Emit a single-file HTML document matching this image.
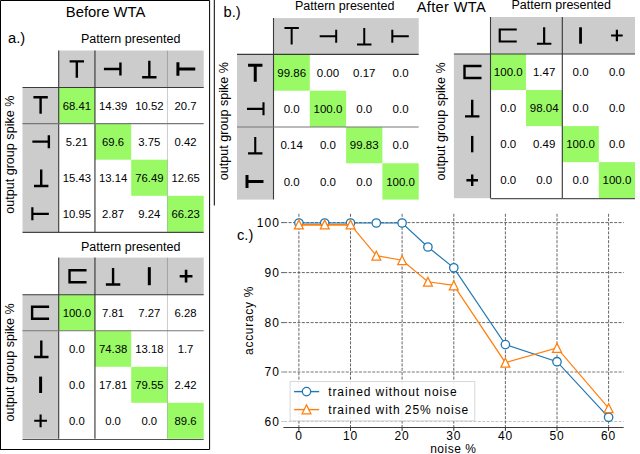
<!DOCTYPE html><html><head><meta charset="utf-8"><style>html,body{margin:0;padding:0;background:#fff}svg{display:block}</style></head><body><svg width="640" height="454" viewBox="0 0 640 454" font-family="Liberation Sans, sans-serif" fill="#000">
<rect width="640" height="454" fill="#fff"/>
<path d="M0.5,449V0.5H209.6V449.5H0" stroke="#000" stroke-width="1" fill="none"/>
<path d="M214.3,0V205.5" stroke="#000" stroke-width="1" fill="none"/>
<text x="65.8" y="16.8" font-size="14.8">Before WTA</text>
<text x="8" y="43.2" font-size="14.7">a.)</text>
<text x="223.5" y="17" font-size="14.7">b.)</text>
<text x="237" y="239.7" font-size="14.7">c.)</text>
<text x="416.7" y="12" font-size="14.6" letter-spacing="0.35">After WTA</text>
<rect x="58.7" y="50.5" width="145.00" height="37" fill="#cccccc"/>
<rect x="22.5" y="87.5" width="36.2" height="144.4" fill="#cccccc"/>
<rect x="58.70" y="87.50" width="36.25" height="36.1" fill="#99fa66"/>
<rect x="94.95" y="123.60" width="36.25" height="36.1" fill="#99fa66"/>
<rect x="131.20" y="159.70" width="36.25" height="36.1" fill="#99fa66"/>
<rect x="167.45" y="195.80" width="36.25" height="36.1" fill="#99fa66"/>
<path d="M167.45,50.5V231.9" stroke="#000" stroke-opacity="0.2" stroke-width="1"/>
<path d="M58.7,50.5V231.9M22.5,87.5H203.70" stroke="#3a3a3a" stroke-width="1.1" fill="none"/>
<path d="M94.95,50.5V231.9" stroke="#333" stroke-width="1.1" fill="none"/>
<path d="M22.5,123.60H203.70" stroke="#777" stroke-width="1.1" fill="none"/>
<path d="M22.5,232.3H203.70" stroke="#444" stroke-width="1.3" fill="none"/>
<path d="M69.625,61.349999999999994H84.025M76.825,61.349999999999994V77.85" stroke="#000" stroke-width="2.4" fill="none"/>
<path d="M33.4,97.3H47.800000000000004M40.6,97.3V113.8" stroke="#000" stroke-width="2.4" fill="none"/>
<path d="M120.42499999999998,62.519999999999996V75.48M120.42499999999998,69.0H103.92499999999998" stroke="#000" stroke-width="2.4" fill="none"/>
<path d="M48.85,135.17000000000002V148.13M48.85,141.65H32.35" stroke="#000" stroke-width="2.4" fill="none"/>
<path d="M142.125,77.25H156.52499999999998M149.325,77.25V60.75" stroke="#000" stroke-width="2.4" fill="none"/>
<path d="M34.0,186.0H48.400000000000006M41.2,186.0V169.5" stroke="#000" stroke-width="2.4" fill="none"/>
<path d="M177.9125,62.196V75.804M177.9125,69.0H195.23749999999998" stroke="#000" stroke-width="3" fill="none"/>
<path d="M32.35,207.37000000000003V220.33M32.35,213.85000000000002H48.85" stroke="#000" stroke-width="2.2" fill="none"/>
<text x="76.83" y="109.62" font-size="11.3" text-anchor="middle">68.41</text>
<text x="113.07" y="109.62" font-size="11.3" text-anchor="middle">14.39</text>
<text x="149.32" y="109.62" font-size="11.3" text-anchor="middle">10.52</text>
<text x="185.57" y="109.62" font-size="11.3" text-anchor="middle">20.7</text>
<text x="76.83" y="145.72" font-size="11.3" text-anchor="middle">5.21</text>
<text x="113.07" y="145.72" font-size="11.3" text-anchor="middle">69.6</text>
<text x="149.32" y="145.72" font-size="11.3" text-anchor="middle">3.75</text>
<text x="185.57" y="145.72" font-size="11.3" text-anchor="middle">0.42</text>
<text x="76.83" y="181.82" font-size="11.3" text-anchor="middle">15.43</text>
<text x="113.07" y="181.82" font-size="11.3" text-anchor="middle">13.14</text>
<text x="149.32" y="181.82" font-size="11.3" text-anchor="middle">76.49</text>
<text x="185.57" y="181.82" font-size="11.3" text-anchor="middle">12.65</text>
<text x="76.83" y="217.92" font-size="11.3" text-anchor="middle">10.95</text>
<text x="113.07" y="217.92" font-size="11.3" text-anchor="middle">2.87</text>
<text x="149.32" y="217.92" font-size="11.3" text-anchor="middle">9.24</text>
<text x="185.57" y="217.92" font-size="11.3" text-anchor="middle">66.23</text>
<text transform="translate(13.80,154.70) rotate(-90)" font-size="12.6" text-anchor="middle">output group spike %</text>
<text x="81" y="43.2" font-size="12.5">Pattern presented</text>
<rect x="58.7" y="257.6" width="145.00" height="37.2" fill="#cccccc"/>
<rect x="22.5" y="294.8" width="36.2" height="144.0" fill="#cccccc"/>
<rect x="58.70" y="294.80" width="36.25" height="36.0" fill="#99fa66"/>
<rect x="94.95" y="330.80" width="36.25" height="36.0" fill="#99fa66"/>
<rect x="131.20" y="366.80" width="36.25" height="36.0" fill="#99fa66"/>
<rect x="167.45" y="402.80" width="36.25" height="36.0" fill="#99fa66"/>
<path d="M167.45,257.6V438.8" stroke="#000" stroke-opacity="0.2" stroke-width="1"/>
<path d="M58.7,257.6V438.8M22.5,294.8H203.70" stroke="#3a3a3a" stroke-width="1.1" fill="none"/>
<path d="M94.95,257.6V438.8" stroke="#333" stroke-width="1.1" fill="none"/>
<path d="M22.5,330.80H203.70" stroke="#777" stroke-width="1.1" fill="none"/>
<path d="M22.5,439.5H203.70" stroke="#555" stroke-width="1.1" fill="none"/>
<path d="M86.525,270.2H69.525V282.2H86.525" stroke="#000" stroke-width="2.4" fill="none"/>
<path d="M49.1,306.8H32.1V318.8H49.1" stroke="#000" stroke-width="2.4" fill="none"/>
<path d="M105.87499999999999,284.45H120.27499999999999M113.07499999999999,284.45V267.95" stroke="#000" stroke-width="2.4" fill="none"/>
<path d="M34.1,357.05H48.50000000000001M41.300000000000004,357.05V340.55" stroke="#000" stroke-width="2.4" fill="none"/>
<path d="M149.325,267.18V285.21999999999997" stroke="#000" stroke-width="3" fill="none"/>
<path d="M40.6,376.6V393.0" stroke="#000" stroke-width="3" fill="none"/>
<path d="M179.695,276.2H192.45499999999998M186.075,269.82V282.58" stroke="#000" stroke-width="2.6" fill="none"/>
<path d="M34.22,420.8H46.980000000000004M40.6,414.42V427.18" stroke="#000" stroke-width="2.1" fill="none"/>
<text x="76.83" y="316.87" font-size="11.3" text-anchor="middle">100.0</text>
<text x="113.07" y="316.87" font-size="11.3" text-anchor="middle">7.81</text>
<text x="149.32" y="316.87" font-size="11.3" text-anchor="middle">7.27</text>
<text x="185.57" y="316.87" font-size="11.3" text-anchor="middle">6.28</text>
<text x="76.83" y="352.87" font-size="11.3" text-anchor="middle">0.0</text>
<text x="113.07" y="352.87" font-size="11.3" text-anchor="middle">74.38</text>
<text x="149.32" y="352.87" font-size="11.3" text-anchor="middle">13.18</text>
<text x="185.57" y="352.87" font-size="11.3" text-anchor="middle">1.7</text>
<text x="76.83" y="388.87" font-size="11.3" text-anchor="middle">0.0</text>
<text x="113.07" y="388.87" font-size="11.3" text-anchor="middle">17.81</text>
<text x="149.32" y="388.87" font-size="11.3" text-anchor="middle">79.55</text>
<text x="185.57" y="388.87" font-size="11.3" text-anchor="middle">2.42</text>
<text x="76.83" y="424.87" font-size="11.3" text-anchor="middle">0.0</text>
<text x="113.07" y="424.87" font-size="11.3" text-anchor="middle">0.0</text>
<text x="149.32" y="424.87" font-size="11.3" text-anchor="middle">0.0</text>
<text x="185.57" y="424.87" font-size="11.3" text-anchor="middle">89.6</text>
<text transform="translate(13.85,362.40) rotate(-90)" font-size="12.6" text-anchor="middle">output group spike %</text>
<text x="81" y="250.6" font-size="12.5">Pattern presented</text>
<rect x="273.5" y="18.1" width="145.20" height="36.3" fill="#cccccc"/>
<rect x="237.0" y="54.4" width="36.5" height="145.2" fill="#cccccc"/>
<rect x="273.50" y="54.40" width="36.30" height="36.3" fill="#99fa66"/>
<rect x="309.80" y="90.70" width="36.30" height="36.3" fill="#99fa66"/>
<rect x="346.10" y="127.00" width="36.30" height="36.3" fill="#99fa66"/>
<rect x="382.40" y="163.30" width="36.30" height="36.3" fill="#99fa66"/>
<path d="M273.5,18.1V199.6M237.0,54.4H418.70" stroke="#3a3a3a" stroke-width="1.1" fill="none"/>
<path d="M237.0,127.00H418.70" stroke="#777" stroke-width="1.1" fill="none"/>
<path d="M284.45,28.0H298.84999999999997M291.65,28.0V44.5" stroke="#000" stroke-width="2" fill="none"/>
<path d="M248.05,65.2H262.45M255.25,65.2V81.7" stroke="#000" stroke-width="3" fill="none"/>
<path d="M336.20000000000005,29.77V42.730000000000004M336.20000000000005,36.25H319.70000000000005" stroke="#000" stroke-width="2" fill="none"/>
<path d="M263.5,102.36999999999999V115.33M263.5,108.85H247.0" stroke="#000" stroke-width="2.1" fill="none"/>
<path d="M357.05,44.5H371.45M364.25,44.5V28.0" stroke="#000" stroke-width="2" fill="none"/>
<path d="M248.05,153.4H262.45M255.25,153.4V136.9" stroke="#000" stroke-width="2.1" fill="none"/>
<path d="M392.29999999999995,29.77V42.730000000000004M392.29999999999995,36.25H408.79999999999995" stroke="#000" stroke-width="2" fill="none"/>
<path d="M247.0,174.97V187.92999999999998M247.0,181.45H263.5" stroke="#000" stroke-width="3" fill="none"/>
<text x="291.65" y="76.69" font-size="11.5" text-anchor="middle">99.86</text>
<text x="327.95" y="76.69" font-size="11.5" text-anchor="middle">0.00</text>
<text x="364.25" y="76.69" font-size="11.5" text-anchor="middle">0.17</text>
<text x="400.55" y="76.69" font-size="11.5" text-anchor="middle">0.0</text>
<text x="291.65" y="112.99" font-size="11.5" text-anchor="middle">0.0</text>
<text x="327.95" y="112.99" font-size="11.5" text-anchor="middle">100.0</text>
<text x="364.25" y="112.99" font-size="11.5" text-anchor="middle">0.0</text>
<text x="400.55" y="112.99" font-size="11.5" text-anchor="middle">0.0</text>
<text x="291.65" y="149.29" font-size="11.5" text-anchor="middle">0.14</text>
<text x="327.95" y="149.29" font-size="11.5" text-anchor="middle">0.0</text>
<text x="364.25" y="149.29" font-size="11.5" text-anchor="middle">99.83</text>
<text x="400.55" y="149.29" font-size="11.5" text-anchor="middle">0.0</text>
<text x="291.65" y="185.59" font-size="11.5" text-anchor="middle">0.0</text>
<text x="327.95" y="185.59" font-size="11.5" text-anchor="middle">0.0</text>
<text x="364.25" y="185.59" font-size="11.5" text-anchor="middle">0.0</text>
<text x="400.55" y="185.59" font-size="11.5" text-anchor="middle">100.0</text>
<text transform="translate(228.20,121.10) rotate(-90)" font-size="12.6" text-anchor="middle">output group spike %</text>
<text x="295" y="9.5" font-size="12.5">Pattern presented</text>
<rect x="490.5" y="17" width="144.50" height="37" fill="#cccccc"/>
<rect x="453.9" y="54" width="36.6" height="144.2" fill="#cccccc"/>
<rect x="490.50" y="54.00" width="35.50" height="36.05" fill="#99fa66"/>
<rect x="526.00" y="90.05" width="36.30" height="36.05" fill="#99fa66"/>
<rect x="562.30" y="126.10" width="36.50" height="36.05" fill="#99fa66"/>
<rect x="598.80" y="162.15" width="36.20" height="36.05" fill="#99fa66"/>
<path d="M490.5,17V198.2M453.9,54H635.00" stroke="#3a3a3a" stroke-width="1.1" fill="none"/>
<path d="M562.30,17V198.2" stroke="#333" stroke-width="1.1" fill="none"/>
<path d="M490.5,198.6H635.00" stroke="#555" stroke-width="1.1" fill="none"/>
<path d="M516.75,29.5H499.75V41.5H516.75" stroke="#000" stroke-width="2.2" fill="none"/>
<path d="M481.5,66.025H464.5V78.025H481.5" stroke="#000" stroke-width="2.4" fill="none"/>
<path d="M536.9499999999999,43.75H551.35M544.15,43.75V27.25" stroke="#000" stroke-width="2.2" fill="none"/>
<path d="M465.0,116.32499999999999H479.4M472.2,116.32499999999999V99.82499999999999" stroke="#000" stroke-width="2.4" fill="none"/>
<path d="M580.55,27.3V43.7" stroke="#000" stroke-width="2.8" fill="none"/>
<path d="M472.2,135.925V152.325" stroke="#000" stroke-width="2.4" fill="none"/>
<path d="M611.1,35.5H622.6999999999999M616.9,29.7V41.3" stroke="#000" stroke-width="2.2" fill="none"/>
<path d="M466.4,180.17499999999998H478.0M472.2,174.37499999999997V185.975" stroke="#000" stroke-width="2.4" fill="none"/>
<text x="508.25" y="76.17" font-size="11.5" text-anchor="middle">100.0</text>
<text x="544.15" y="76.17" font-size="11.5" text-anchor="middle">1.47</text>
<text x="580.55" y="76.17" font-size="11.5" text-anchor="middle">0.0</text>
<text x="616.90" y="76.17" font-size="11.5" text-anchor="middle">0.0</text>
<text x="508.25" y="112.21" font-size="11.5" text-anchor="middle">0.0</text>
<text x="544.15" y="112.21" font-size="11.5" text-anchor="middle">98.04</text>
<text x="580.55" y="112.21" font-size="11.5" text-anchor="middle">0.0</text>
<text x="616.90" y="112.21" font-size="11.5" text-anchor="middle">0.0</text>
<text x="508.25" y="148.26" font-size="11.5" text-anchor="middle">0.0</text>
<text x="544.15" y="148.26" font-size="11.5" text-anchor="middle">0.49</text>
<text x="580.55" y="148.26" font-size="11.5" text-anchor="middle">100.0</text>
<text x="616.90" y="148.26" font-size="11.5" text-anchor="middle">0.0</text>
<text x="508.25" y="184.31" font-size="11.5" text-anchor="middle">0.0</text>
<text x="544.15" y="184.31" font-size="11.5" text-anchor="middle">0.0</text>
<text x="580.55" y="184.31" font-size="11.5" text-anchor="middle">0.0</text>
<text x="616.90" y="184.31" font-size="11.5" text-anchor="middle">100.0</text>
<text transform="translate(445.20,121.40) rotate(-90)" font-size="12.6" text-anchor="middle">output group spike %</text>
<text x="511.5" y="8.8" font-size="12.5">Pattern presented</text>
<path d="M284.2,421.5H623.7" stroke="#c4c4c4" stroke-width="1.0" stroke-dasharray="3,1.4" fill="none"/>
<path d="M281.2,421.5h3" stroke="#c4c4c4" stroke-width="0.9"/>
<text x="280" y="425.9" font-size="12" text-anchor="end" letter-spacing="1.1">60</text>
<path d="M284.2,372.0H623.7" stroke="#777" stroke-width="1.0" stroke-dasharray="3,1.4" fill="none"/>
<path d="M281.2,372.0h3" stroke="#777" stroke-width="0.9"/>
<text x="280" y="376.4" font-size="12" text-anchor="end" letter-spacing="1.1">70</text>
<path d="M284.2,322.6H623.7" stroke="#555" stroke-width="0.9" stroke-dasharray="3,1.4" fill="none"/>
<path d="M281.2,322.6h3" stroke="#444" stroke-width="0.9"/>
<text x="280" y="327.0" font-size="12" text-anchor="end" letter-spacing="1.1">80</text>
<path d="M284.2,272.6H623.7" stroke="#555" stroke-width="0.9" stroke-dasharray="3,1.4" fill="none"/>
<path d="M281.2,272.6h3" stroke="#444" stroke-width="0.9"/>
<text x="280" y="277.0" font-size="12" text-anchor="end" letter-spacing="1.1">90</text>
<path d="M284.2,222.6H623.7" stroke="#555" stroke-width="0.9" stroke-dasharray="3,1.4" fill="none"/>
<path d="M281.2,222.6h3" stroke="#444" stroke-width="0.9"/>
<text x="280" y="227.0" font-size="12" text-anchor="end" letter-spacing="1.1">100</text>
<path d="M298.9,213.8V427.4" stroke="#555" stroke-width="0.9" stroke-dasharray="3,1.4" fill="none"/>
<path d="M298.9,427.4v3.5" stroke="#333" stroke-width="1"/>
<text x="298.9" y="439.8" font-size="12" text-anchor="middle" letter-spacing="0.8">0</text>
<path d="M350.5,213.8V427.4" stroke="#555" stroke-width="0.9" stroke-dasharray="3,1.4" fill="none"/>
<path d="M350.5,427.4v3.5" stroke="#333" stroke-width="1"/>
<text x="350.5" y="439.8" font-size="12" text-anchor="middle" letter-spacing="0.8">10</text>
<path d="M402.1,213.8V427.4" stroke="#555" stroke-width="0.9" stroke-dasharray="3,1.4" fill="none"/>
<path d="M402.1,427.4v3.5" stroke="#333" stroke-width="1"/>
<text x="402.1" y="439.8" font-size="12" text-anchor="middle" letter-spacing="0.8">20</text>
<path d="M453.8,213.8V427.4" stroke="#555" stroke-width="0.9" stroke-dasharray="3,1.4" fill="none"/>
<path d="M453.8,427.4v3.5" stroke="#333" stroke-width="1"/>
<text x="453.8" y="439.8" font-size="12" text-anchor="middle" letter-spacing="0.8">30</text>
<path d="M505.4,213.8V427.4" stroke="#555" stroke-width="0.9" stroke-dasharray="3,1.4" fill="none"/>
<path d="M505.4,427.4v3.5" stroke="#333" stroke-width="1"/>
<text x="505.4" y="439.8" font-size="12" text-anchor="middle" letter-spacing="0.8">40</text>
<path d="M557.0,213.8V427.4" stroke="#555" stroke-width="0.9" stroke-dasharray="3,1.4" fill="none"/>
<path d="M557.0,427.4v3.5" stroke="#333" stroke-width="1"/>
<text x="557.0" y="439.8" font-size="12" text-anchor="middle" letter-spacing="0.8">50</text>
<path d="M608.6,213.8V427.4" stroke="#555" stroke-width="0.9" stroke-dasharray="3,1.4" fill="none"/>
<path d="M608.6,427.4v3.5" stroke="#333" stroke-width="1"/>
<text x="608.6" y="439.8" font-size="12" text-anchor="middle" letter-spacing="0.8">60</text>
<path d="M283.4,427.5H623.7" stroke="#333" stroke-width="0.95"/>
<polyline points="298.9,223.0 324.7,223.0 350.5,223.0 376.3,223.0 402.1,223.0 427.9,247.0 453.8,267.8 505.4,344.6 557.0,361.7 608.6,417.3" stroke="#1f77b4" stroke-width="1.2" fill="none"/>
<circle cx="298.9" cy="223.0" r="4.2" fill="#fff" stroke="#1f77b4" stroke-width="1.3"/>
<circle cx="324.7" cy="223.0" r="4.2" fill="#fff" stroke="#1f77b4" stroke-width="1.3"/>
<circle cx="350.5" cy="223.0" r="4.2" fill="#fff" stroke="#1f77b4" stroke-width="1.3"/>
<circle cx="376.3" cy="223.0" r="4.2" fill="#fff" stroke="#1f77b4" stroke-width="1.3"/>
<circle cx="402.1" cy="223.0" r="4.2" fill="#fff" stroke="#1f77b4" stroke-width="1.3"/>
<circle cx="427.9" cy="247.0" r="4.2" fill="#fff" stroke="#1f77b4" stroke-width="1.3"/>
<circle cx="453.8" cy="267.8" r="4.2" fill="#fff" stroke="#1f77b4" stroke-width="1.3"/>
<circle cx="505.4" cy="344.6" r="4.2" fill="#fff" stroke="#1f77b4" stroke-width="1.3"/>
<circle cx="557.0" cy="361.7" r="4.2" fill="#fff" stroke="#1f77b4" stroke-width="1.3"/>
<circle cx="608.6" cy="417.3" r="4.2" fill="#fff" stroke="#1f77b4" stroke-width="1.3"/>
<polyline points="298.9,224.5 324.7,224.5 350.5,224.5 376.3,255.6 402.1,260.2 427.9,281.8 453.8,285.4 505.4,362.7 557.0,347.9 608.6,408.2" stroke="#ff7f0e" stroke-width="1.2" fill="none"/>
<path d="M298.9,224.9H350.5" stroke="#ff7f0e" stroke-width="1.9"/>
<path d="M298.9,220.1L303.3,228.9H294.4Z" fill="#fff" stroke="#ff7f0e" stroke-width="1.25" stroke-linejoin="miter"/>
<path d="M324.7,220.1L329.2,228.9H320.3Z" fill="#fff" stroke="#ff7f0e" stroke-width="1.25" stroke-linejoin="miter"/>
<path d="M350.5,220.1L355.0,228.9H346.1Z" fill="#fff" stroke="#ff7f0e" stroke-width="1.25" stroke-linejoin="miter"/>
<path d="M376.3,251.2L380.8,260.1H371.9Z" fill="#fff" stroke="#ff7f0e" stroke-width="1.25" stroke-linejoin="miter"/>
<path d="M402.1,255.8L406.6,264.6H397.7Z" fill="#fff" stroke="#ff7f0e" stroke-width="1.25" stroke-linejoin="miter"/>
<path d="M427.9,277.4L432.4,286.2H423.5Z" fill="#fff" stroke="#ff7f0e" stroke-width="1.25" stroke-linejoin="miter"/>
<path d="M453.8,280.9L458.2,289.8H449.3Z" fill="#fff" stroke="#ff7f0e" stroke-width="1.25" stroke-linejoin="miter"/>
<path d="M505.4,358.2L509.8,367.1H500.9Z" fill="#fff" stroke="#ff7f0e" stroke-width="1.25" stroke-linejoin="miter"/>
<path d="M557.0,343.4L561.5,352.3H552.5Z" fill="#fff" stroke="#ff7f0e" stroke-width="1.25" stroke-linejoin="miter"/>
<path d="M608.6,403.8L613.1,412.6H604.2Z" fill="#fff" stroke="#ff7f0e" stroke-width="1.25" stroke-linejoin="miter"/>
<rect x="290.1" y="381.5" width="184.7" height="39.3" fill="#fff" fill-opacity="0.9" stroke="#d8d8d8" stroke-width="1"/>
<path d="M294.1,391.6H319.2" stroke="#1f77b4" stroke-width="1.4"/><circle cx="306.5" cy="391.6" r="4.2" fill="#fff" stroke="#1f77b4" stroke-width="1.3"/>
<path d="M294.1,409.6H319.2" stroke="#ff7f0e" stroke-width="1.4"/><path d="M306.5,404.9L310.9,413.8H302.1Z" fill="#fff" stroke="#ff7f0e" stroke-width="1.25" stroke-linejoin="miter"/>
<text x="328.2" y="396" font-size="12" letter-spacing="0.92">trained without noise</text>
<text x="328.2" y="413.8" font-size="12" letter-spacing="0.92">trained with 25% noise</text>
<text x="430.2" y="453.1" font-size="12" letter-spacing="0.5">noise %</text>
<text transform="translate(252.8,320.4) rotate(-90)" font-size="12" text-anchor="middle" letter-spacing="0.7">accuracy %</text>
</svg></body></html>
